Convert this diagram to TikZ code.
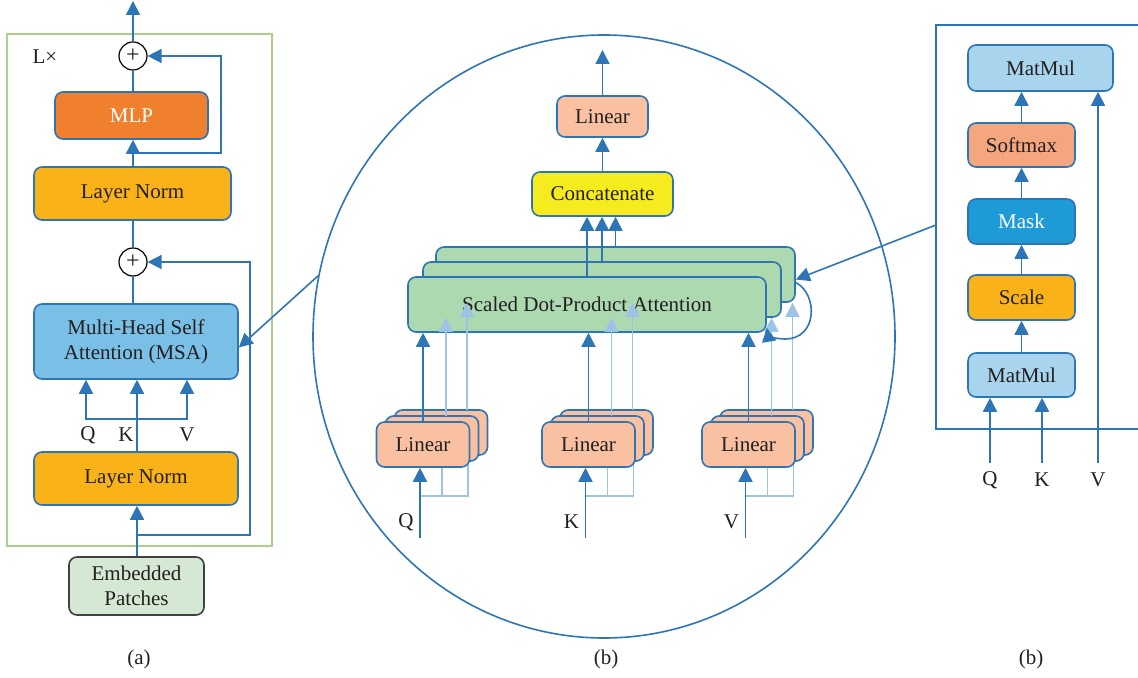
\documentclass[tikz,border=0pt]{standalone}
\usepackage{fontspec}
\setmainfont{Liberation Serif}
\usetikzlibrary{arrows.meta,shapes.geometric,backgrounds}

\definecolor{lnblue}{HTML}{2E75B6}
\definecolor{palebl}{HTML}{9DC3E6}
\definecolor{framegr}{HTML}{A9D18E}
\definecolor{txt}{HTML}{231F20}
\definecolor{mlpfill}{HTML}{F07F2E}
\definecolor{lnfill}{HTML}{FAB219}
\definecolor{msafill}{HTML}{79BFE6}
\definecolor{embfill}{HTML}{D5E8D4}
\definecolor{embdraw}{HTML}{404040}
\definecolor{catfill}{HTML}{F5EB1E}
\definecolor{linfill}{HTML}{F9C1A1}
\definecolor{sdfill}{HTML}{ADD9B1}
\definecolor{mmfill}{HTML}{A8D4EE}
\definecolor{smfill}{HTML}{F4A77F}
\definecolor{maskfill}{HTML}{1E9BD7}

% box from its corners (x1,y1)-(x2,y2), given in picture units
\newcommand\bx[7]{%
  \pgfmathsetmacro\bxw{((#4)-(#2))*0.5}%
  \pgfmathsetmacro\bxh{((#5)-(#3))*0.5}%
  \node[#6, minimum width=\bxw pt, minimum height=\bxh pt] (#1) at ({((#2)+(#4))/2},{((#3)+(#5))/2}) {#7};}

% a stack of three Linear layers with its input, centred at x = #2
\newcommand\linstack[3]{%
  \bx{#1b}{#2-28.5}{410}{#2+64.5}{455}{box,fill=linfill}{}
  \bx{#1m}{#2-37.5}{416}{#2+55.5}{461}{box,fill=linfill}{}
  \bx{#1f}{#2-46.5}{422}{#2+46.5}{467}{box,fill=linfill}{Linear}
  \coordinate (#1in) at ({#2-3},538);
  \coordinate (#1j) at ({#2-3},496);
  \coordinate (#1j2) at ({#2+19},496);
  \coordinate (#1j3) at ({#2+45},496);
  \coordinate (#1t2) at ({#2+23},416);
  \coordinate (#1t3) at ({#2+44},410);
  \begin{scope}[on background layer]
    \draw[pale] (#1j) -- (#1j3) -- (#1j3 |- #1b.south);
    \draw[pale] (#1j2) -- (#1j2 |- #1m.south);
  \end{scope}
  \draw[arr] (#1in) -- (#1in |- #1f.south);
  \node (#1lab) at ({#2-17},522) {#3};
}

\begin{document}
\begin{tikzpicture}[x=0.5pt,y=-0.5pt,
  font=\fontsize{10.5}{12.5}\selectfont,
  every node/.style={text=txt},
  box/.style={draw=lnblue, line width=0.8pt, rounded corners=4pt, inner sep=0pt, align=center},
  ln/.style={draw=lnblue, line width=0.8pt},
  arr/.style={ln, -{Triangle[length=7pt,width=7pt]}},
  pale/.style={draw=palebl, line width=0.8pt},
  parr/.style={pale, -{Triangle[length=7pt,width=7pt]}},
  plus/.style={circle, draw=black, line width=0.6pt, fill=white, minimum size=14pt, inner sep=0pt, font=\fontsize{12}{12}\selectfont}]

\useasboundingbox (0,0) rectangle (1138,678);

% ---------------- (a) transformer encoder block ----------------
\draw[framegr, line width=0.6pt] (7,34) rectangle (272,546);
\node (lx) at (45,57) {L×};

\node[plus] (p1) at (133,56) {+};
\node[plus] (p2) at (133,262) {+};
\bx{mlp}{55}{92}{208}{139}{box,fill=mlpfill,text=white}{MLP}
\bx{ln1}{34}{167}{231}{220}{box,fill=lnfill}{Layer Norm}
\bx{msa}{34}{304}{238}{379}{box,fill=msafill}{Multi-Head Self\\Attention (MSA)}
\bx{ln2}{34}{452}{238}{505}{box,fill=lnfill}{Layer Norm}
\bx{emb}{69}{557}{204}{615}{box,draw=embdraw,fill=embfill}{Embedded\\Patches}

\coordinate (aout) at (133,1);
\coordinate (s1) at (133,153);
\coordinate (s2) at (137,535);
\coordinate (kx) at (137,419);
\coordinate (qx) at (86,419);
\coordinate (vx) at (187,419);

\draw[arr] (p1.north) -- (aout);
\draw[ln] (mlp.north -| p1) -- (p1.south);
\draw[arr] (ln1.north -| p1) -- (mlp.south -| p1);
\draw[arr] (s1) -- (221,153) -- (221,56) -- (p1.east);
\draw[ln] (p2.north) -- (ln1.south -| p2);
\draw[ln] (msa.north -| p2) -- (p2.south);
\draw[arr] (s2) -- (250,535) -- (250,262) -- (p2.east);
\draw[arr] (emb.north -| s2) -- (ln2.south -| s2);
\draw[arr] (ln2.north -| kx) -- (msa.south -| kx);
\draw[arr] (kx) -- (qx) -- (msa.south -| qx);
\draw[arr] (kx) -- (vx) -- (msa.south -| vx);
\node (lq) at (88,435) {Q};
\node (lk) at (126,435) {K};
\node (lv) at (187,435) {V};
\node (capa) at (139,659) {(a)};

% ---------------- (b) multi-head attention ----------------
\node[draw=lnblue, line width=0.8pt, ellipse, inner sep=0pt,
      minimum width=291pt, minimum height=301.5pt] (bigc) at (604,336.5) {};
\draw[arr] (bigc.168) -- ([yshift=-3pt]msa.east);

\bx{lino}{557}{96}{648}{137}{box,fill=linfill}{Linear}
\bx{cat}{532}{172}{673}{216}{box,fill=catfill}{Concatenate}
\coordinate (bout) at (602.5,50);
\draw[arr] (lino.north) -- (bout);
\draw[arr] (cat.north) -- (lino.south);

\bx{sd3}{436}{247}{795}{302}{box,fill=sdfill}{}
\bx{sd2}{423}{262}{781}{317}{box,fill=sdfill}{}
\bx{sd1}{408}{277}{766}{332}{box,fill=sdfill}{Scaled Dot-Product Attention}
\draw[arr] (sd1.north) -- (sd1.north |- cat.south);
\draw[arr] (sd2.north) -- (sd2.north |- cat.south);
\draw[arr] (sd3.north) -- (sd3.north |- cat.south);

\linstack{Q}{423}{Q}
\linstack{K}{588.5}{K}
\linstack{V}{748.5}{V}

\foreach \s in {Q,K,V}{
  \draw[arr] (\s f.north) -- (\s f.north |- sd1.south);
  \draw[parr] (\s t2) -- (\s t2 |- sd2.south);
  \draw[parr] (\s t3) -- (\s t3 |- sd3.south);
}

% loop back over the heads
\draw[arr] ([yshift=-4pt]sd3.east) .. controls (818,294) and (818,339) .. (785,339)
  .. controls (775,339) and (768,335) .. ([yshift=2.5pt]sd1.south east);

\node (capb) at (606,659) {(b)};

% ---------------- (b) scaled dot-product attention ----------------
\draw[ln] (1140,25) -- (936,25) -- (936,429) -- (1140,429);
\coordinate (fr) at (936,225);
\draw[arr] (fr) -- ([yshift=-2.5pt]sd3.east);

\bx{mm2}{968}{45}{1113}{91}{box,fill=mmfill}{MatMul}
\bx{soft}{968}{123}{1075}{167}{box,fill=smfill}{Softmax}
\bx{mask}{968}{199}{1075}{244}{box,fill=maskfill,text=white}{Mask}
\bx{scale}{968}{275}{1075}{320}{box,fill=lnfill}{Scale}
\bx{mm1}{968}{353}{1075}{397}{box,fill=mmfill}{MatMul}

\draw[arr] (soft.north) -- (mm2.south -| soft.north);
\draw[arr] (mask.north) -- (soft.south);
\draw[arr] (scale.north) -- (mask.south);
\draw[arr] (mm1.north) -- (scale.south);

\coordinate (rq) at (990,463);
\coordinate (rk) at (1042,463);
\coordinate (rv) at (1098,463);
\draw[arr] (rq) -- (mm1.south -| rq);
\draw[arr] (rk) -- (mm1.south -| rk);
\draw[arr] (rv) -- (mm2.south -| rv);
\node (lrq) at (990,480) {Q};
\node (lrk) at (1042,480) {K};
\node (lrv) at (1098,480) {V};
\node (capc) at (1031,659) {(b)};
\end{tikzpicture}
\end{document}
